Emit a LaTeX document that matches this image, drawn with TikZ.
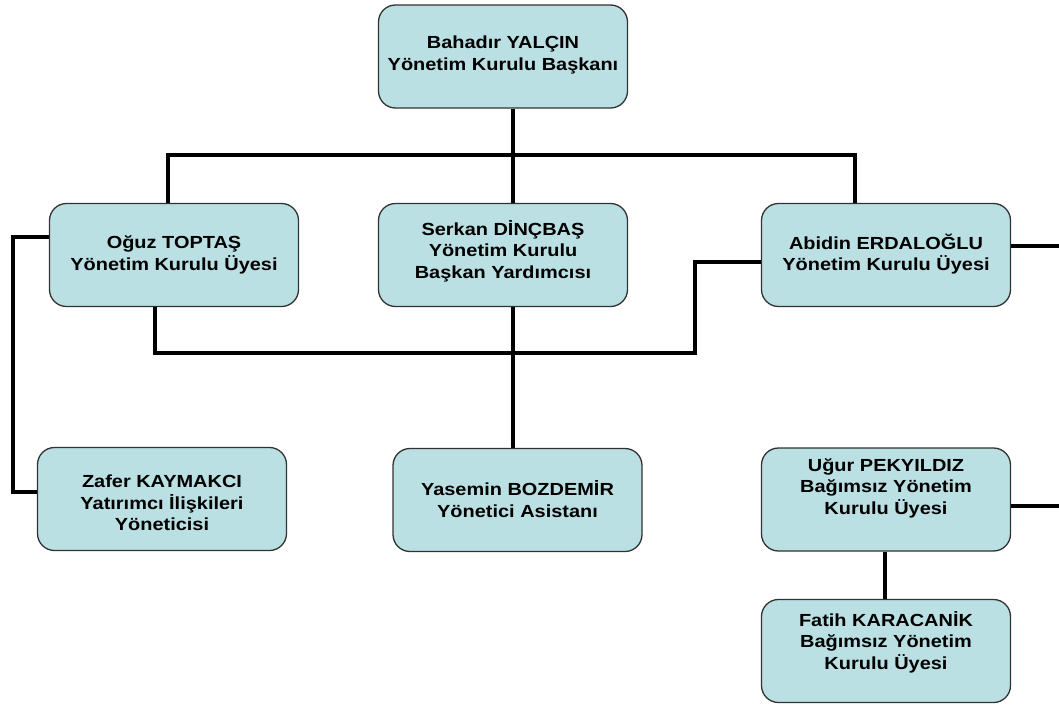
\documentclass[tikz,border=0pt]{standalone}
\usepackage{fontspec}
\newfontfamily\boxfont{Liberation Sans}[FakeStretch=1.14]
\definecolor{boxfill}{RGB}{186,224,227}
\definecolor{boxline}{RGB}{50,50,50}
\tikzset{
  x=1pt, y=-1pt,
  box/.style={draw=boxline, line width=1.3pt, fill=boxfill, rounded corners=17pt,
    minimum width=249pt, minimum height=103pt, inner sep=0pt},
  txt/.style={font=\boxfont\bfseries\fontsize{17.5}{21.5}\selectfont, align=center,
    text=black, inner sep=0pt},
  conn/.style={line width=4pt, black}
}
\begin{document}
\begin{tikzpicture}
\useasboundingbox (0,0) rectangle (1059,704);
% boxes
\node[box] (top)     at (503,56.5) {};
\node[box] (oguz)    at (174,255)  {};
\node[box] (serkan)  at (503,255)  {};
\node[box] (abidin)  at (886,255)  {};
\node[box] (zafer)   at (162,499)  {};
\node[box] (yasemin) at (517.5,500) {};
\node[box] (ugur)    at (886,499.5) {};
\node[box] (fatih)   at (886,651)  {};
% texts
\node[txt] (ttop)  at (503,55) {Bahadır YALÇIN\\Yönetim Kurulu  Başkanı};
\node[txt] (toguz) at (174,255) {Oğuz TOPTAŞ\\Yönetim Kurulu Üyesi};
\node[txt] (tserkan) at (503,251) {Serkan DİNÇBAŞ\\Yönetim Kurulu\\Başkan Yardımcısı};
\node[txt] (tabidin) at (886,254) {Abidin ERDALOĞLU\\Yönetim Kurulu Üyesi};
\node[txt] (tzafer) at (162,503) {Zafer KAYMAKCI\\Yatırımcı İlişkileri\\Yöneticisi};
\node[txt] (tyasemin) at (517.5,499) {Yasemin BOZDEMİR\\Yönetici Asistanı};
\node[txt] (tugur) at (886,488) {Uğur PEKYILDIZ\\Bağımsız Yönetim\\Kurulu Üyesi};
\node[txt] (tfatih) at (886,642) {Fatih KARACANİK\\Bağımsız Yönetim\\Kurulu Üyesi};
% helper coordinates
\coordinate (j) at (513,155);
\coordinate (l) at (13,400);
\coordinate (m) at (695,353);
\coordinate (e) at (1062,0);
% connectors
\draw[conn] ([xshift=10pt]top.south) -- (j);
\draw[conn] ([xshift=-6pt]oguz.north) |- (j) -| ([xshift=-31pt]abidin.north);
\draw[conn] (j) -- ([xshift=10pt]serkan.north);
\draw[conn] ([yshift=18pt]oguz.west) -| (l) |- ([yshift=7pt]zafer.west);
\draw[conn] ([xshift=-19pt]oguz.south) |- (m) |- ([yshift=-7pt]abidin.west);
\draw[conn] ([xshift=10pt]serkan.south) -- ([xshift=10pt]serkan.south |- yasemin.north);
\draw[conn] ([yshift=9pt]abidin.east) -- ([yshift=9pt]abidin.east -| e);
\draw[conn] ([yshift=-6.5pt]ugur.east) -- ([yshift=-6.5pt]ugur.east -| e);
\draw[conn] (ugur.south -| 885,0) -- (fatih.north -| 885,0);
\end{tikzpicture}
\end{document}
